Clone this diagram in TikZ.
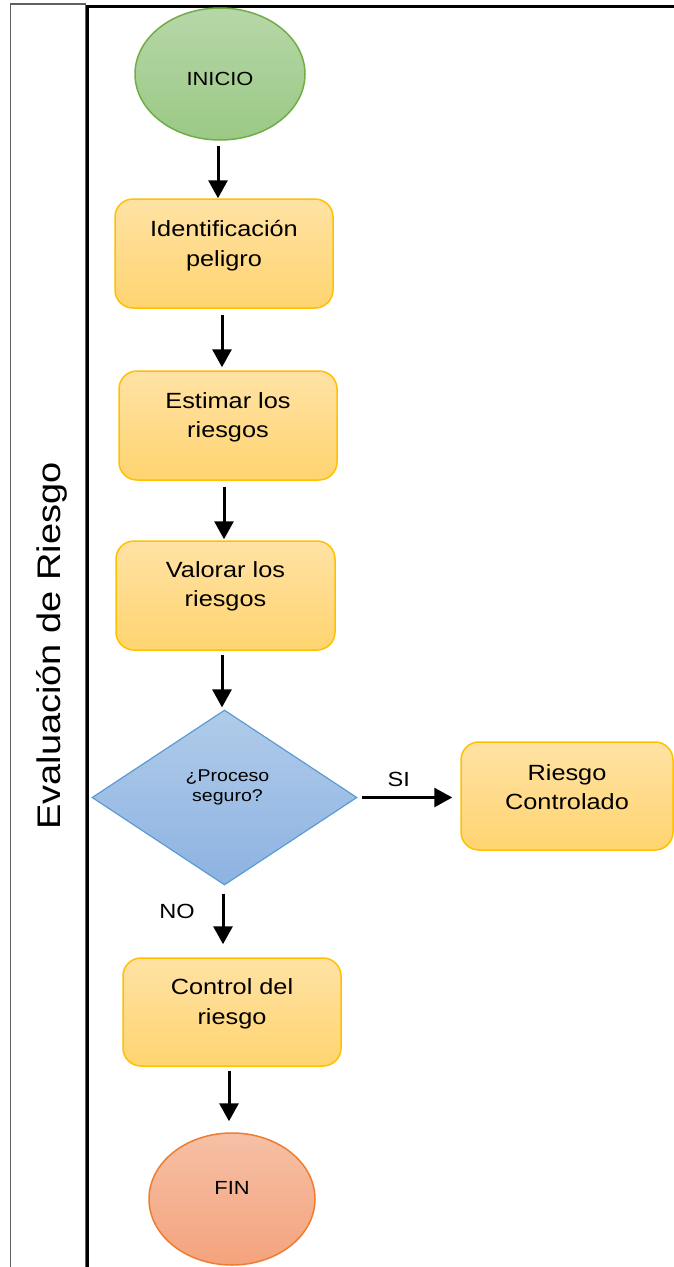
\documentclass[tikz,border=0pt]{standalone}
\usepackage{fontspec}
\setmainfont{Liberation Sans}
\usetikzlibrary{shapes.geometric,arrows.meta,calc}
\definecolor{boxtop}{HTML}{FFE2A4}
\definecolor{boxbot}{HTML}{FFD470}
\definecolor{boxline}{HTML}{FFC000}
\definecolor{grtop}{HTML}{B6D7A8}
\definecolor{grbot}{HTML}{9BC985}
\definecolor{grline}{HTML}{70AD47}
\definecolor{bltop}{HTML}{B0CBE9}
\definecolor{blbot}{HTML}{8DB3E2}
\definecolor{blline}{HTML}{5B9BD5}
\definecolor{ortop}{HTML}{F6C0A6}
\definecolor{orbot}{HTML}{F4A37C}
\definecolor{orline}{HTML}{ED7D31}
\definecolor{laneline}{HTML}{606060}
\newcommand\hs[1]{\scalebox{1.15}[1]{#1}}
\begin{document}
\begin{tikzpicture}[x=1pt,y=-1pt,
  procbox/.style={rectangle, rounded corners=18pt, draw=boxline, line width=1.5pt,
    top color=boxtop, bottom color=boxbot, inner sep=0pt},
  startnode/.style={ellipse, draw=grline, line width=1.5pt, top color=grtop, bottom color=grbot, inner sep=0pt},
  endnode/.style={ellipse, draw=orline, line width=1.5pt, top color=ortop, bottom color=orbot, inner sep=0pt},
  decision/.style={diamond, draw=blline, line width=1.2pt, top color=bltop, bottom color=blbot, inner sep=0pt},
  boxtxt/.style={align=center, font=\fontsize{22}{29.5}\selectfont, inner sep=0pt},
  smalltxt/.style={align=center, font=\fontsize{17}{20.5}\selectfont, inner sep=0pt},
  circtxt/.style={align=center, font=\fontsize{19}{22}\selectfont, inner sep=0pt},
  flow/.style={draw=black, line width=3pt, -{Triangle[length=18pt,width=19pt]}},
  branch/.style={font=\fontsize{20.5}{24}\selectfont, inner sep=0pt}
]
\useasboundingbox (0,0) rectangle (674,1267);
% lane frame
\draw[laneline, line width=1.3pt] (10.5,1267) -- (10.5,4) -- (85.5,4) -- (85.5,1267);
\draw[black, line width=2.6pt] (87.5,1267) -- (87.5,6.5) -- (676,6.5);
\node[rotate=90, inner sep=0pt] (lane) at (51.5,646)
  {\scalebox{1}[0.86]{\fontsize{38}{42}\selectfont Evaluación de Riesgo}};

% shapes
\node[startnode, minimum width=170pt, minimum height=132pt] (inicio) at (220,74) {};
\node[circtxt] (inicioT) at ([yshift=-5pt]inicio.center) {\hs{INICIO}};

\node[procbox, minimum width=218pt, minimum height=109pt] (b1) at (224,253.5) {};
\node[boxtxt] (b1T) at ([yshift=8pt]b1.center) {\hs{Identificación}\\\hs{peligro}};

\node[procbox, minimum width=218pt, minimum height=109pt] (b2) at (228,425.5) {};
\node[boxtxt] (b2T) at ([yshift=8pt]b2.center) {\hs{Estimar los}\\\hs{riesgos}};

\node[procbox, minimum width=219pt, minimum height=109pt] (b3) at (225.5,595.5) {};
\node[boxtxt] (b3T) at ([yshift=9pt]b3.center) {\hs{Valorar los}\\\hs{riesgos}};

\node[decision, minimum width=265pt, minimum height=175pt] (dec) at (224.5,797.5) {};
\node[smalltxt] (decT) at ([yshift=10pt,xshift=3pt]dec.center) {\hs{¿Proceso}\\\hs{seguro?}};

\node[procbox, minimum width=212pt, minimum height=108pt] (rc) at (567,796) {};
\node[boxtxt] (rcT) at ([yshift=9pt]rc.center) {\hs{Riesgo}\\\hs{Controlado}};

\node[procbox, minimum width=218pt, minimum height=108pt] (b4) at (232,1012) {};
\node[boxtxt] (b4T) at ([yshift=8pt]b4.center) {\hs{Control del}\\\hs{riesgo}};

\node[endnode, minimum width=166pt, minimum height=132pt] (fin) at (232,1199) {};
\node[circtxt] (finT) at ([yshift=11pt]fin.center) {\hs{FIN}};

% connectors
\draw[flow, shorten <=5pt] ([xshift=-2pt]inicio.south) -- ([xshift=-2pt]inicio.south |- b1.north);
\draw[flow, shorten <=6pt, shorten >=3pt] ([xshift=-2pt]b1.south) -- ([xshift=-2pt]b1.south |- b2.north);
\draw[flow, shorten <=6pt, shorten >=1pt] ([xshift=-4pt]b2.south) -- ([xshift=-4pt]b2.south |- b3.north);
\draw[flow, shorten <=4pt, shorten >=2pt] ([xshift=-3.5pt]b3.south) -- ([xshift=-3.5pt]b3.south |- dec.north);
\draw[flow, shorten <=4pt, shorten >=8pt] (dec.east) -- (dec.east -| rc.west)
  node[branch, pos=0.4, above=9pt] (si) {\hs{SI}};
\draw[flow, shorten <=8pt, shorten >=13pt] ([xshift=-1.5pt]dec.south) -- ([xshift=-1.5pt]dec.south |- b4.north);
\node[branch] (no) at (177,911) {\hs{NO}};
\draw[flow, shorten <=4pt, shorten >=11pt] ([xshift=-3pt]b4.south) -- ([xshift=-3pt]b4.south |- fin.north);
\end{tikzpicture}
\end{document}
